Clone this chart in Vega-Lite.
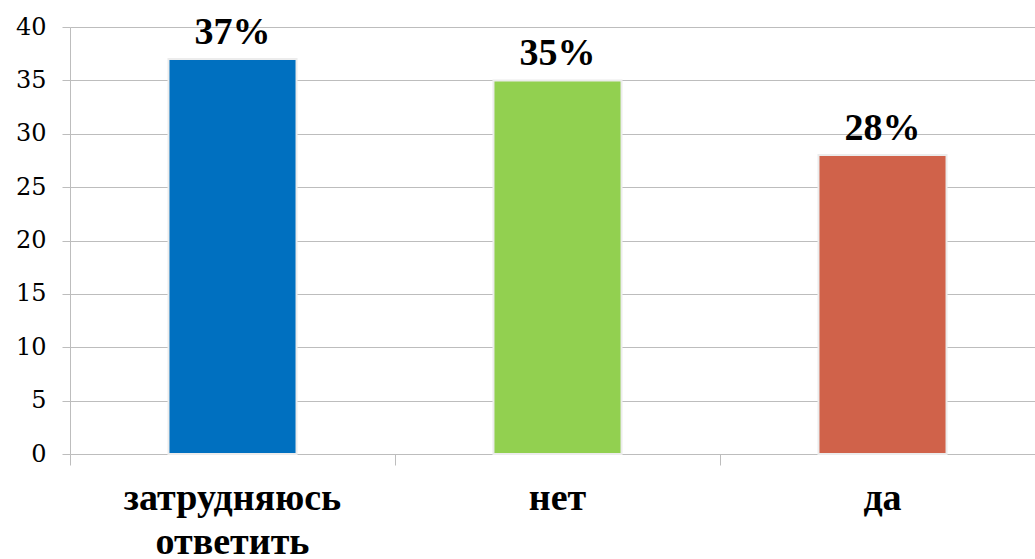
{
  "$schema": "https://vega.github.io/schema/vega-lite/v6.json",
  "width": 965,
  "height": 427,
  "autosize": "none",
  "padding": {"left": 70, "top": 27, "right": 0, "bottom": 105},
  "background": "white",
  "config": {"view": {"stroke": null}},
  "data": {"values": [
    {"category": "затрудняюсь ответить", "value": 37, "label": "37%"},
    {"category": "нет", "value": 35, "label": "35%"},
    {"category": "да", "value": 28, "label": "28%"}
  ]},
  "encoding": {
    "x": {"field": "category", "type": "nominal", "sort": null,
      "scale": {"range": [0, 975], "paddingInner": 0.606, "paddingOuter": 0.303},
      "axis": {"title": null, "labelAngle": 0, "bandPosition": -0.769,
        "domain": false, "ticks": true, "tickColor": "#bdbdbd", "tickSize": 11, "tickWidth": 1,
        "labelFont": "Liberation Serif", "labelFontWeight": "bold", "labelFontSize": 38, "labelColor": "#000000",
        "labelPadding": 14, "labelLineHeight": 44, "labelLimit": 400,
        "labelExpr": "datum.label == 'затрудняюсь ответить' ? ['затрудняюсь', 'ответить'] : datum.label"}},
    "y": {"field": "value", "type": "quantitative",
      "scale": {"domain": [0, 40]},
      "axis": {"title": null, "values": [0, 5, 10, 15, 20, 25, 30, 35, 40],
        "grid": true, "gridColor": "#bdbdbd", "gridWidth": 1,
        "domain": true, "domainColor": "#bdbdbd", "tickColor": "#bdbdbd", "tickSize": 8,
        "labelFont": "DejaVu Serif", "labelFontSize": 24, "labelColor": "#000000", "labelPadding": 16}}
  },
  "layer": [
    {"mark": {"type": "bar", "stroke": "#ececec", "strokeWidth": 2},
      "encoding": {"color": {"field": "category", "type": "nominal", "sort": null, "legend": null,
        "scale": {"domain": ["затрудняюсь ответить", "нет", "да"], "range": ["#0070C0", "#92D050", "#D0624A"]}}}},
    {"mark": {"type": "text", "font": "Liberation Serif", "fontWeight": "bold", "fontSize": 38, "baseline": "alphabetic", "dy": -15, "color": "#000000"},
      "encoding": {"text": {"field": "label"}}}
  ]
}
